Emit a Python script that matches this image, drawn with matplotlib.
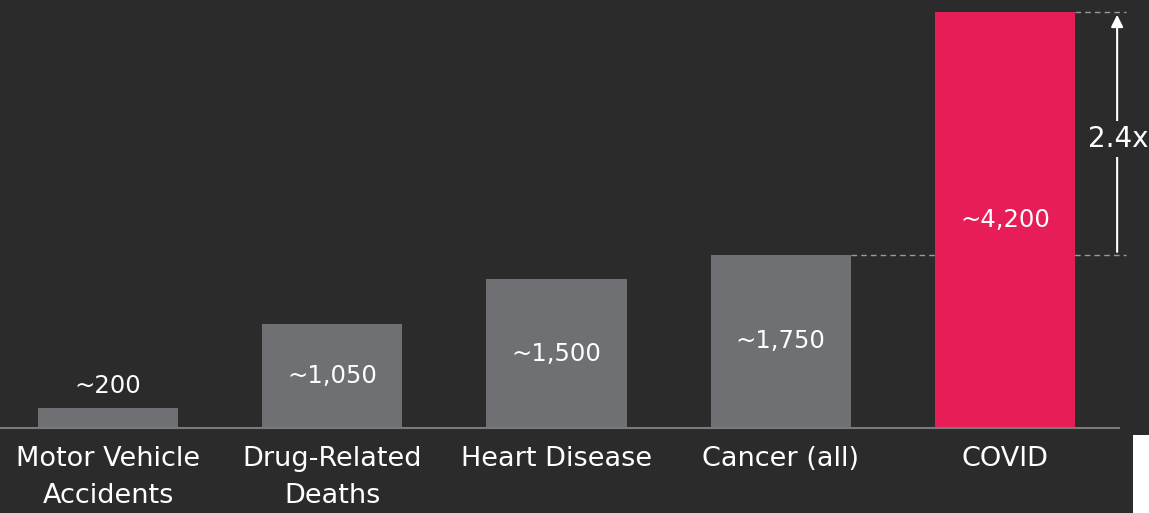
import matplotlib.pyplot as plt
from matplotlib.patches import Rectangle

categories = ["Motor Vehicle\nAccidents", "Drug-Related\nDeaths", "Heart Disease", "Cancer (all)", "COVID"]
values = [200, 1050, 1500, 1750, 4200]
value_labels = ["~200", "~1,050", "~1,500", "~1,750", "~4,200"]
ratio_label = "2.4x"

bg = "#2b2b2b"
grey = "#6f7073"
pink = "#e71d58"
colors = [grey, grey, grey, grey, pink]

plt.rcParams['font.family'] = ['DejaVu Sans']

fig = plt.figure(figsize=(11.49, 5.13), dpi=100, facecolor=bg)
ax = fig.add_axes([0, 85 / 513, 1, 428 / 513])
ax.set_facecolor(bg)

x = list(range(len(values)))
bars = ax.bar(x, values, width=0.625, color=colors, zorder=2)

ax.set_xlim(-108 / 224.25, (1149 - 108) / 224.25)
ax.set_ylim(0, 4200 * 428 / 416)

# value labels: small bar gets it on top, rest centered inside
for i, (v, lab) in enumerate(zip(values, value_labels)):
    if v < 500:
        ax.text(i, v + 220, lab, ha="center", va="center", color="white", fontsize=17.5, zorder=3)
    else:
        ax.text(i, v / 2, lab, ha="center", va="center", color="white", fontsize=17.5, zorder=3)

# baseline
ax.plot([-0.5, 4.51], [0, 0], color="#7a7a7a", lw=1.5, zorder=3, clip_on=False)

# dashed guides + arrow
ax.plot([3 + 0.3125, 4.54], [values[3], values[3]], color="#9a9a9a", lw=1, ls=(0, (4, 3)), zorder=1)
ax.plot([4 + 0.3125, 4.54], [values[4], values[4]], color="#9a9a9a", lw=1, ls=(0, (4, 3)), zorder=1)
ax.annotate("", xy=(4.50, values[4]), xytext=(4.50, values[3]),
            arrowprops=dict(arrowstyle="-|>", color="white", lw=1.5, mutation_scale=18))
ax.text(4.505, (values[3] + values[4]) / 2 - 60, ratio_label, ha="center", va="center",
        color="white", fontsize=20, bbox=dict(facecolor=bg, edgecolor="none", pad=3), zorder=4)

ax.set_xticks(x)
ax.set_xticklabels(categories, color="white", fontsize=19.5, linespacing=1.55)
ax.tick_params(axis="x", length=0, pad=13)
ax.set_yticks([])
for s in ax.spines.values():
    s.set_visible(False)

# white corner from the source screenshot
fig.patches.append(Rectangle((1133 / 1149, 0), 16 / 1149, 78 / 513, transform=fig.transFigure,
                             facecolor="white", edgecolor="none"))

fig.savefig("out.png", dpi=100, facecolor=bg)
